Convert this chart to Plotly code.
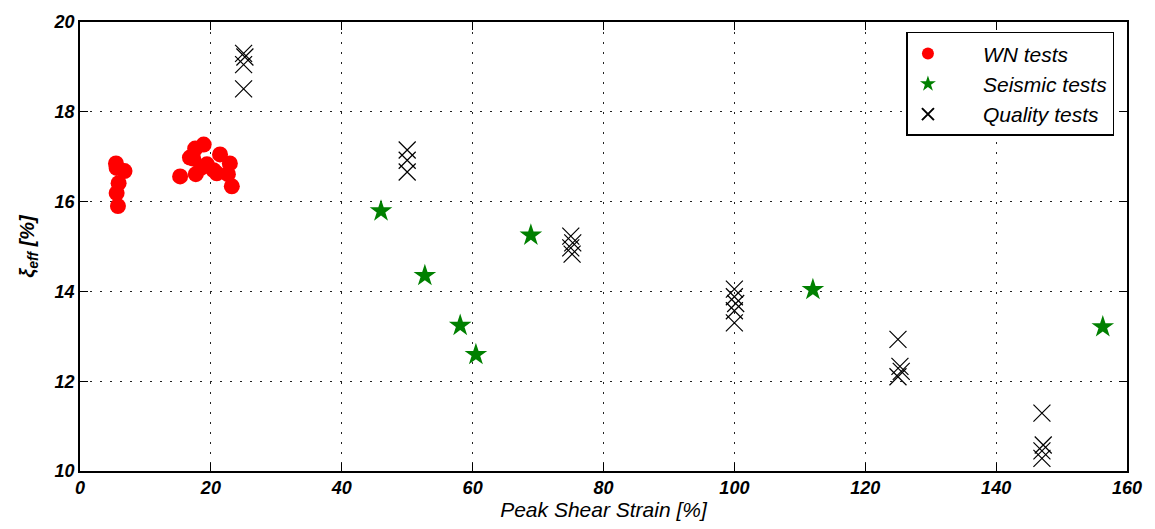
import plotly.graph_objects as go

# White-noise tests: peak shear strain [%] and effective damping [%]
wn_strain = [5.5, 5.6, 6.8, 5.9, 5.6, 5.8, 15.3, 17.6, 18.9, 17.3, 17.7, 19.4,
             20.4, 21.4, 22.9, 22.6, 23.2, 20.9, 18.5, 16.8]
wn_damping = [16.85, 16.75, 16.68, 16.41, 16.19, 15.90, 16.56, 17.18, 17.27, 16.96,
              16.61, 16.83, 16.70, 17.05, 16.85, 16.61, 16.34, 16.63, 16.75, 16.98]

# Seismic tests
seis_strain = [46.0, 52.7, 58.1, 60.5, 68.9, 112.0, 156.3]
seis_damping = [15.79, 14.35, 13.24, 12.59, 15.25, 14.04, 13.21]

# Quality tests
q_strain = [25, 25.2, 25, 25,
            50, 50, 50,
            75, 75.3, 75, 75.2,
            100, 100, 100.2, 100, 100,
            125, 125.3, 125.5, 125,
            147, 147.2, 147, 147]
q_damping = [19.30, 19.22, 19.05, 18.51,
             17.15, 16.92, 16.66,
             15.23, 15.08, 14.97, 14.83,
             14.05, 13.88, 13.73, 13.57, 13.30,
             12.93, 12.33, 12.22, 12.10,
             11.29, 10.58, 10.45, 10.28]

x_ticks = [0, 20, 40, 60, 80, 100, 120, 140, 160]
y_ticks = [10, 12, 14, 16, 18, 20]

font_family = "Liberation Sans, Arial, sans-serif"
pad = "\u00a0" * 6

fig = go.Figure()
fig.add_trace(go.Scatter(
    x=wn_strain, y=wn_damping, mode="markers", name=f"{pad}<i>WN tests</i>",
    marker=dict(symbol="circle", size=16, color="#ff0000", line=dict(width=0))))
fig.add_trace(go.Scatter(
    x=seis_strain, y=seis_damping, mode="markers", name=f"{pad}<i>Seismic tests</i>",
    marker=dict(symbol="star", size=17, color="#008000", line=dict(width=0))))
fig.add_trace(go.Scatter(
    x=q_strain, y=q_damping, mode="markers", name=f"{pad}<i>Quality tests</i>",
    marker=dict(symbol="x-thin-open", size=17, color="black",
                line=dict(width=1.2, color="black"))))

axis_common = dict(
    showline=True, linecolor="black", linewidth=1.5, mirror="ticks",
    ticks="inside", ticklen=8, tickwidth=1, tickcolor="black",
    showgrid=True, gridcolor="#222222", griddash="2px,8px", gridwidth=1,
    zeroline=False,
    tickfont=dict(family=font_family, size=18, color="black",
                  style="italic", weight="bold"),
)

fig.update_xaxes(range=[0, 160], tickvals=x_ticks, ticktext=[str(v) for v in x_ticks],
                 title=dict(text="<i>Peak Shear Strain [%]</i>", standoff=3,
                            font=dict(family=font_family, size=21, color="black")),
                 **axis_common)
fig.update_yaxes(range=[10, 20], tickvals=y_ticks, ticktext=[str(v) for v in y_ticks],
                 title=dict(text="<b><i>ξ<sub>eff</sub> [%]</i></b>", standoff=14,
                            font=dict(family=font_family, size=20, color="black")),
                 **axis_common)

fig.update_layout(
    width=1155, height=529,
    margin=dict(l=80, r=28, t=20, b=58),
    plot_bgcolor="white", paper_bgcolor="white",
    showlegend=True,
    legend=dict(x=0.988, y=0.978, xanchor="right", yanchor="top",
                bgcolor="white", bordercolor="black", borderwidth=1.5,
                font=dict(family=font_family, size=21, color="black"),
                itemsizing="constant", itemwidth=30, tracegroupgap=0),
)

fig.write_html("out.html")
